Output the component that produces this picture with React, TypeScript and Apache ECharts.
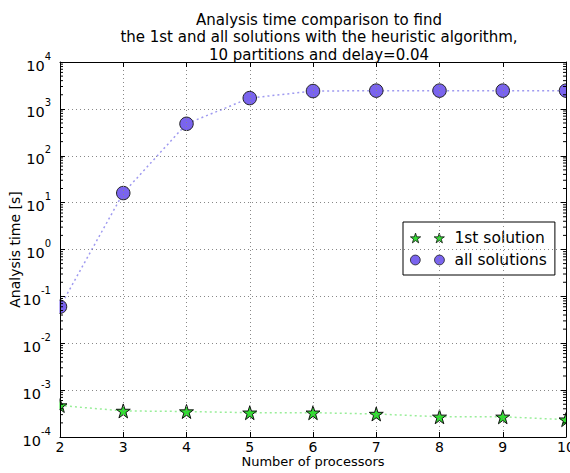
import React, { useEffect, useRef } from "react";
import * as echarts from "echarts";

const PROCESSORS = [2, 3, 4, 5, 6, 7, 8, 9, 10];
const FIRST_SOLUTION = [4.7e-4, 3.6e-4, 3.5e-4, 3.3e-4, 3.3e-4, 3.1e-4, 2.7e-4, 2.7e-4, 2.35e-4];
const ALL_SOLUTIONS = [0.06, 16, 480, 1700, 2400, 2450, 2450, 2450, 2450];
const DECADES = [1e-4, 1e-3, 1e-2, 1e-1, 1, 10, 100, 1000];
const MINOR_MULT = [2, 3, 4, 5, 6, 7, 8, 9];
const TITLE_LINES = [
  "Analysis time comparison to find",
  "the 1st and all solutions with the heuristic algorithm,",
  "10 partitions and delay=0.04",
];

const FONT = "DejaVu Sans";
const STAR =
  "path://M10 0 L12.245 6.91 L19.511 6.91 L13.633 11.18 L15.878 18.09 L10 13.82 L4.122 18.09 L6.367 11.18 L0.489 6.91 L7.755 6.91 Z";
const STAR2 =
  "path://M10 0 L12.245 6.91 L19.511 6.91 L13.633 11.18 L15.878 18.09 L10 13.82 L4.122 18.09 L6.367 11.18 L0.489 6.91 L7.755 6.91 Z M54 0 L56.245 6.91 L63.511 6.91 L57.633 11.18 L59.878 18.09 L54 13.82 L48.122 18.09 L50.367 11.18 L44.489 6.91 L51.755 6.91 Z";
const CIRCLE2 =
  "path://M0 9 A9 9 0 1 0 18 9 A9 9 0 1 0 0 9 Z M44 9 A9 9 0 1 0 62 9 A9 9 0 1 0 44 9 Z";

const STAR_FILL = "#33dd33";
const CIRCLE_FILL = "#7a64ee";

export default function App() {
  const ref = useRef<HTMLDivElement>(null);
  useEffect(() => {
    if (!ref.current) return;
    const chart = echarts.init(ref.current, null, { renderer: "svg" });
    const minorVals: number[][] = [];
    DECADES.forEach((d) => MINOR_MULT.forEach((m) => minorVals.push([2, d * m])));

    const logLabel = (v: number) => {
      const e = Math.round(Math.log10(v));
      return `{b|10}{s|${e}}`;
    };
    const yRich = {
      b: { fontFamily: FONT, fontSize: 14.5, color: "#000", lineHeight: 22, verticalAlign: "bottom" },
      s: { fontFamily: FONT, fontSize: 10, color: "#000", lineHeight: 10, verticalAlign: "top" },
    };

    chart.setOption({
      animation: false,
      backgroundColor: "#fff",
      title: {
        text: TITLE_LINES.join("\n"),
        left: 314,
        top: 6,
        textAlign: "center",
        textStyle: { fontFamily: FONT, fontSize: 15, fontWeight: "normal", color: "#000", lineHeight: 17.5 },
      },
      grid: { left: 60, right: 4, top: 62, bottom: 36, containLabel: false, outerBoundsMode: "none" },
      legend: {
        orient: "vertical",
        left: 403,
        top: 222,
        padding: [8, 8, 7, 7],
        itemGap: 6,
        itemWidth: 34,
        itemHeight: 10,
        borderColor: "#000",
        borderWidth: 1,
        backgroundColor: "#fff",
        textStyle: { fontFamily: FONT, fontSize: 15.5, color: "#000", padding: [0, 0, 0, 5] },
        data: [
          { name: "1st solution", icon: STAR2, itemStyle: { color: STAR_FILL, borderColor: "#111", borderWidth: 0.8 } },
          { name: "all solutions", icon: CIRCLE2, itemStyle: { color: CIRCLE_FILL, borderColor: "#222", borderWidth: 0.8 } },
        ],
      },
      graphic: [
        { type: "rect", z: 50, silent: true, shape: { x: 0, y: 62, width: 59.5, height: 375 }, style: { fill: "#fff" } },
        { type: "rect", z: 50, silent: true, shape: { x: 566.5, y: 62, width: 10, height: 375 }, style: { fill: "#fff" } },
      ],
      xAxis: [
        {
          type: "value",
          min: 2,
          max: 10,
          interval: 1,
          z: 60,
          name: "Number of processors",
          nameLocation: "middle",
          nameGap: 18,
          nameMoveOverlap: false,
          nameTextStyle: { fontFamily: FONT, fontSize: 13, color: "#000" },
          axisLine: { lineStyle: { color: "#000", width: 1 } },
          axisTick: { inside: true, length: 5, lineStyle: { color: "#000" } },
          axisLabel: { fontFamily: FONT, fontSize: 14, color: "#000", margin: 3 },
          splitLine: { show: true, lineStyle: { color: "#888", type: [1, 3], width: 1 } },
        },
        {
          type: "value",
          position: "top",
          min: 2,
          max: 10,
          interval: 1,
          z: 60,
          axisLine: { show: true, lineStyle: { color: "#000", width: 1 } },
          axisTick: { show: true, inside: true, length: 5, lineStyle: { color: "#000" } },
          axisLabel: { show: false },
          splitLine: { show: false },
        },
      ],
      yAxis: [
        {
          type: "log",
          logBase: 10,
          min: 1e-4,
          max: 1e4,
          interval: 1,
          z: 60,
          name: "Analysis time [s]",
          nameLocation: "middle",
          nameGap: 38,
          nameMoveOverlap: false,
          nameTextStyle: { fontFamily: FONT, fontSize: 14, color: "#000" },
          axisLine: { show: true, lineStyle: { color: "#000", width: 1 } },
          axisTick: { show: true, inside: true, length: 5, lineStyle: { color: "#000" } },
          axisLabel: { formatter: logLabel, rich: yRich, margin: 9 },
          splitLine: { show: true, lineStyle: { color: "#888", type: [1, 3], width: 1 } },
        },
        {
          type: "log",
          logBase: 10,
          position: "right",
          min: 1e-4,
          max: 1e4,
          interval: 1,
          z: 60,
          axisLine: { show: true, lineStyle: { color: "#000", width: 1 } },
          axisTick: { show: true, inside: true, length: 5, lineStyle: { color: "#000" } },
          axisLabel: { show: false },
          splitLine: { show: false },
        },
      ],
      series: [
        {
          type: "custom",
          name: "minor",
          silent: true,
          z: 5,
          data: minorVals,
          renderItem: (params: any, api: any) => {
            const v = api.value(1);
            const l = api.coord([2, v]);
            const r = api.coord([10, v]);
            return {
              type: "group",
              children: [
                { type: "line", shape: { x1: l[0], y1: l[1], x2: l[0] + 3, y2: l[1] }, style: { stroke: "#000", lineWidth: 1 } },
                { type: "line", shape: { x1: r[0], y1: r[1], x2: r[0] - 3, y2: r[1] }, style: { stroke: "#000", lineWidth: 1 } },
              ],
            };
          },
        },
        {
          type: "line",
          name: "1st solution",
          data: PROCESSORS.map((p, i) => [p, FIRST_SOLUTION[i]]),
          symbol: STAR,
          symbolSize: 14,
          lineStyle: { color: "#99ee99", type: [2, 3], width: 1.5 },
          itemStyle: { color: STAR_FILL, borderColor: "#111", borderWidth: 1 },
          z: 3,
        },
        {
          type: "line",
          name: "all solutions",
          data: PROCESSORS.map((p, i) => [p, ALL_SOLUTIONS[i]]),
          symbol: "circle",
          symbolSize: 13.5,
          lineStyle: { color: "#9f9af0", type: [2, 3], width: 1.5 },
          itemStyle: { color: CIRCLE_FILL, borderColor: "#222", borderWidth: 1 },
          z: 3,
        },
      ],
    });
    return () => chart.dispose();
  }, []);
  return (
    <div
      ref={ref}
      style={{ position: "fixed", left: 0, top: 0, width: 570, height: 473, background: "#fff" }}
    />
  );
}
